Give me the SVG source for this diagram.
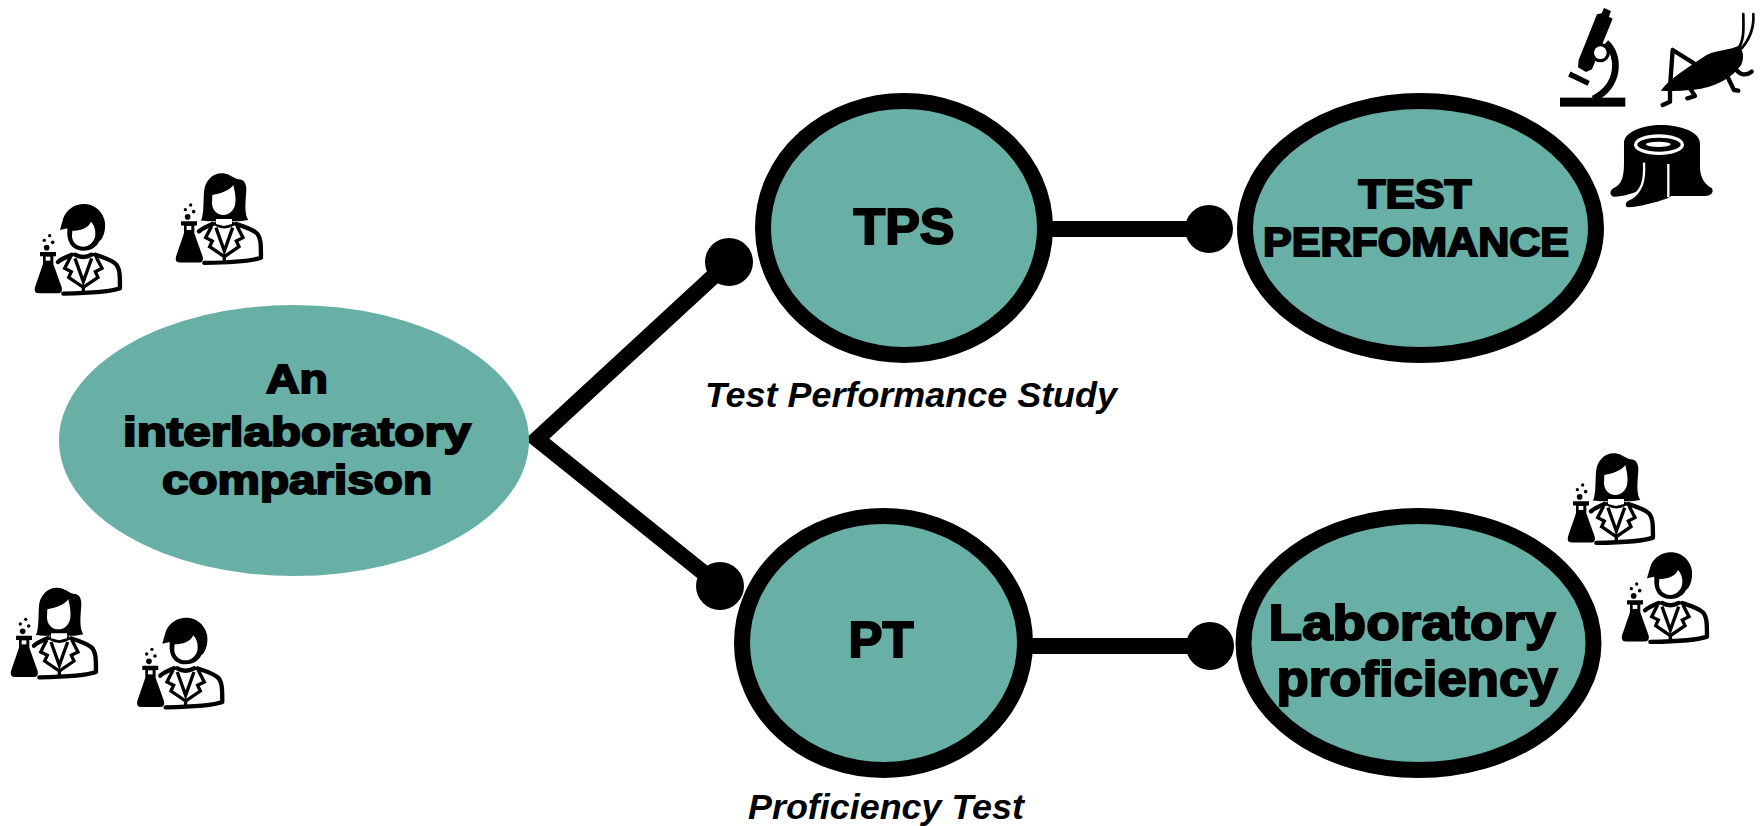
<svg xmlns="http://www.w3.org/2000/svg" xmlns:xlink="http://www.w3.org/1999/xlink" width="1761" height="826" viewBox="0 0 1761 826">
<style>
.n{fill:#68afa6;stroke:#000;stroke-width:16}
.m{fill:#68afa6}
.t{font-family:"Liberation Sans",Arial,sans-serif;font-weight:700;fill:#000;stroke:#000;stroke-width:2;text-anchor:middle}
.s{font-family:"Liberation Sans",Arial,sans-serif;font-weight:700;font-style:italic;font-size:35px;fill:#000;text-anchor:middle}
.c{stroke:#000;stroke-width:16;fill:none}
.b{fill:none;stroke:#000;stroke-width:13;stroke-linejoin:round;stroke-linecap:round}
.l{fill:none;stroke:#000;stroke-width:10;stroke-linejoin:miter}
.w{fill:#fff}
.k{fill:#000}
</style>
<defs>
<g id="lab">
<path class="k" d="M120 276H168V289H160V312L185 382Q189 400 172 400H117Q101 400 105 382L129 312V289H120Z"/>
<rect class="w" x="137" y="290" width="14" height="12"/>
<circle class="k" cx="140" cy="263" r="8.5"/><circle class="k" cx="133" cy="241" r="5"/><circle class="k" cx="158" cy="247" r="5.5"/><circle class="k" cx="149" cy="227" r="5"/>
<path class="b" d="M174 306C185 296 200 290 215 284M285 284C310 292 330 298 345 310C360 322 360 345 360 385C330 397 250 400 190 401"/>
<path class="l" d="M212 290L194 325L214 335L206 352L250 382L294 352L286 335L306 325L288 290M225 295L250 365L275 295M250 375V400"/>
<path class="b" d="M225 284Q250 298 275 284"/>
</g>
<g id="man">
<use href="#lab" xlink:href="#lab"/>
<path class="k" d="M180 210L190 175C200 145 230 130 255 132C295 135 320 170 315 205C313 225 305 240 297 245C290 262 270 272 250 272C225 272 205 258 202 225V205Z"/>
<path class="w" d="M217 212C240 212 265 205 273 185C283 195 287 210 286 225C284 245 268 260 250 260C230 260 216 245 216 228Z"/>
</g>
<g id="woman">
<use href="#lab" xlink:href="#lab"/>
<g transform="translate(-423,92)">
<path class="k" d="M603 182C612 165 610 120 612 95C615 60 640 38 670 40C690 42 700 55 715 58C735 58 742 75 738 105C735 140 735 165 745 180L720 184H625Z"/>
<path class="w" d="M637 105C665 100 690 90 700 75C705 95 708 115 706 130C703 150 690 165 670 165C650 165 637 150 636 130Z"/>
<path class="w" d="M648 177H696V192L672 198L648 192Z"/>
</g>
</g>
</defs>

<g id="connectors">
<path class="c" d="M729 262L537 439L720 586"/>
<path class="c" d="M1050 229H1209M1030 646H1210"/>
<circle class="k" cx="729" cy="262" r="24"/>
<circle class="k" cx="720" cy="586" r="24"/>
<circle class="k" cx="1209" cy="229" r="24"/>
<circle class="k" cx="1210" cy="646" r="24"/>
</g>

<g id="node-interlab">
<ellipse class="m" cx="294" cy="440.5" rx="235" ry="135.5"/>
<text class="t" font-size="41" x="297" y="393" textLength="62" lengthAdjust="spacingAndGlyphs">An</text>
<text class="t" font-size="41" x="297" y="446" textLength="348" lengthAdjust="spacingAndGlyphs">interlaboratory</text>
<text class="t" font-size="41" x="297" y="494" textLength="270" lengthAdjust="spacingAndGlyphs">comparison</text>
</g>
<g id="node-tps">
<ellipse class="n" cx="904" cy="228" rx="141" ry="127"/>
<text class="t" font-size="50" x="904" y="244" textLength="101" lengthAdjust="spacingAndGlyphs">TPS</text>
</g>
<g id="node-test-performance">
<ellipse class="n" cx="1420.5" cy="228" rx="175.5" ry="127"/>
<text class="t" font-size="40" x="1415" y="208" textLength="113" lengthAdjust="spacingAndGlyphs">TEST</text>
<text class="t" font-size="40" x="1416" y="256" textLength="306" lengthAdjust="spacingAndGlyphs">PERFOMANCE</text>
</g>
<g id="node-pt">
<ellipse class="n" cx="883.5" cy="643" rx="141.5" ry="127"/>
<text class="t" font-size="50" x="881" y="657" textLength="65" lengthAdjust="spacingAndGlyphs">PT</text>
</g>
<g id="node-lab-proficiency">
<ellipse class="n" cx="1418.5" cy="643" rx="175" ry="127"/>
<text class="t" font-size="50" x="1412" y="640" textLength="287" lengthAdjust="spacingAndGlyphs">Laboratory</text>
<text class="t" font-size="50" x="1417" y="696" textLength="281" lengthAdjust="spacingAndGlyphs">proficiency</text>
</g>

<text class="s" x="911" y="407" textLength="412" lengthAdjust="spacingAndGlyphs">Test Performance Study</text>
<text class="s" x="886" y="819" textLength="276" lengthAdjust="spacingAndGlyphs">Proficiency Test</text>

<g id="people">
<use href="#man" xlink:href="#man" transform="translate(0,160) scale(.3333)"/>
<use href="#woman" xlink:href="#woman" transform="translate(141,129.3) scale(.3333)"/>
<use href="#woman" xlink:href="#woman" transform="translate(-24,543.7) scale(.3333)"/>
<use href="#man" xlink:href="#man" transform="translate(102.3,573.7) scale(.3333)"/>
<use href="#woman" xlink:href="#woman" transform="translate(1533,409.3) scale(.3333)"/>
<use href="#man" xlink:href="#man" transform="translate(1587,508.3) scale(.3333)"/>
</g>

<g id="test-icons" transform="translate(1530,0) scale(.3333)">
<g id="microscope">
<rect class="k" x="90" y="293" width="196" height="27"/>
<path fill="none" stroke="#000" stroke-width="20" d="M228 128C270 165 272 255 190 297"/>
<polygon class="k" points="222,24 243,33 237,50 248,56 186,208 168,216 144,202 146,180 201,43 215,40"/>
<circle class="k" cx="211" cy="158" r="29"/>
<circle class="w" cx="211" cy="158" r="19"/>
<path fill="none" stroke="#000" stroke-width="16" d="M118 222L176 250"/>
</g>
<g id="cricket">
<path class="k" d="M392 272C420 235 470 205 530 165C560 150 600 150 625 138C645 150 642 190 628 202C600 240 540 268 480 270C450 274 420 274 392 272Z"/>
<path fill="none" stroke="#000" stroke-width="13" stroke-linecap="round" stroke-linejoin="round" d="M428 150L492 190M428 150L420 262V305L398 315M480 265L495 288L472 295M590 225L612 270L625 272M610 195C625 225 645 230 665 215"/>
<path fill="none" stroke="#000" stroke-width="8" stroke-linecap="round" d="M625 145C645 120 640 70 640 42M635 145C665 110 672 70 670 42"/>
</g>
<g id="stump">
<path class="k" d="M282 430C282 395 340 375 392 375C450 375 510 395 510 430V500C510 530 522 552 546 565C553 580 540 588 525 588H424L413 595C370 610 330 620 295 622C283 620 285 605 300 600C320 590 325 580 330 570C310 580 280 590 252 590C238 588 238 572 250 565C275 555 282 530 282 490Z"/>
<ellipse cx="387" cy="434" rx="70" ry="26" fill="#000" stroke="#fff" stroke-width="10"/>
<ellipse class="w" cx="385" cy="433" rx="37" ry="8"/>
<path fill="none" stroke="#fff" stroke-width="7" d="M342 488C345 540 338 575 296 597M415 492V592"/>
</g>
</g>
</svg>
